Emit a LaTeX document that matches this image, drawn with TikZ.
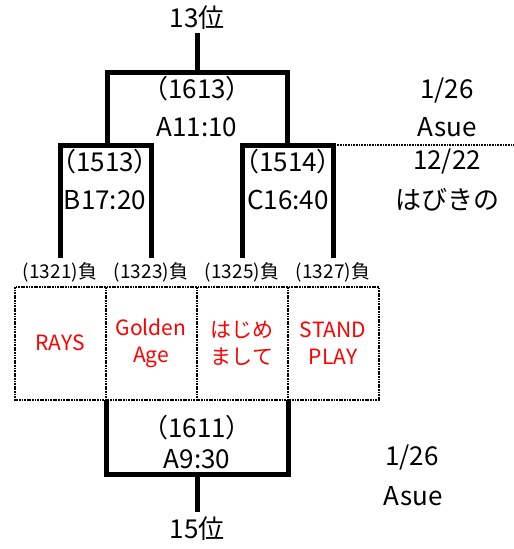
\documentclass[tikz,border=0pt]{standalone}
\usepackage{fontspec}
\setmainfont{Noto Sans CJK JP}
\begin{document}
\begin{tikzpicture}[x=1pt,y=-1pt,
  bracket/.style={line width=5pt,line join=miter},
  fineline/.style={line width=1.5pt,dash pattern=on 1pt off 0.6pt},
  boxline/.style={line width=2.2pt,dash pattern=on 1.8pt off 0.8pt},
  big/.style={font=\fontsize{26}{28}\selectfont,inner sep=0pt},
  lab/.style={font=\fontsize{19}{22}\selectfont,inner sep=0pt},
  team/.style={font=\fontsize{21}{27}\selectfont,text=red,align=center,inner sep=0pt}]
\useasboundingbox (0,0) rectangle (514,549);
% texts
\node[big] (t13) at (197,18) {13位};
\node[big] (n1613) at (197,89) {（1613）};
\node[big] (s1613) at (197,127) {A11:10};
\node[big] (d1613) at (447,91) {1/26};
\node[big] (v1613) at (447,127) {Asue};
\node[big] (n1513) at (105,162) {（1513）};
\node[big] (s1513) at (105,200) {B17:20};
\node[big] (n1514) at (288,162) {（1514）};
\node[big] (s1514) at (288,200) {C16:40};
\node[big] (d1514) at (447,162) {12/22};
\node[big] (v1514) at (447,200) {はびきの};
\node[lab] (l1321) at (60,272) {(1321)負};
\node[lab] (l1323) at (151,272) {(1323)負};
\node[lab] (l1325) at (242,272) {(1325)負};
\node[lab] (l1327) at (333,272) {(1327)負};
\node[team] (tRays) at (60,343) {RAYS};
\node[team] (tGold) at (151,343) {Golden\\Age};
\node[team] (tHaji) at (242,343) {はじめ\\まして};
\node[team] (tStand) at (333,343) {STAND\\PLAY};
\node[big] (n1611) at (197,428) {（1611）};
\node[big] (s1611) at (197,459) {A9:30};
\node[big] (d1611) at (412,457) {1/26};
\node[big] (v1611) at (413,496) {Asue};
\node[big] (t15) at (197,529) {15位};
% coordinates
\coordinate (r13) at (197,33);
\coordinate (m1613) at (197,72);
\coordinate (m1513) at (105,145);
\coordinate (m1514) at (287,145);
\coordinate (p1321) at (60,258);
\coordinate (p1323) at (151,258);
\coordinate (p1325) at (242,258);
\coordinate (p1327) at (333,258);
\coordinate (dl) at (335,145);
\coordinate (dr) at (514,145);
\coordinate (q1323) at (106,400);
\coordinate (q1327) at (288,400);
\coordinate (m1611) at (197,474);
\coordinate (r15) at (197,512);
\coordinate (bx1) at (15,287);
\coordinate (bx2) at (379,400);
% brackets
\draw[bracket] (r13) -- (m1613);
\draw[bracket] (107,145) |- (m1613) -| (m1514);
\draw[bracket] (p1321) |- (m1513) -| (p1323);
\draw[bracket] (p1325) |- (m1514) -| (p1327);
\draw[fineline] (dl) -- (dr);
\draw[boxline] (bx1) rectangle (bx2);
\draw[boxline] (106,287) -- (106,400);
\draw[boxline] (197,287) -- (197,400);
\draw[boxline] (288,287) -- (288,400);
\draw[bracket] (q1323) |- (m1611) -| (q1327);
\draw[bracket] (m1611) -- (r15);
\end{tikzpicture}
\end{document}
